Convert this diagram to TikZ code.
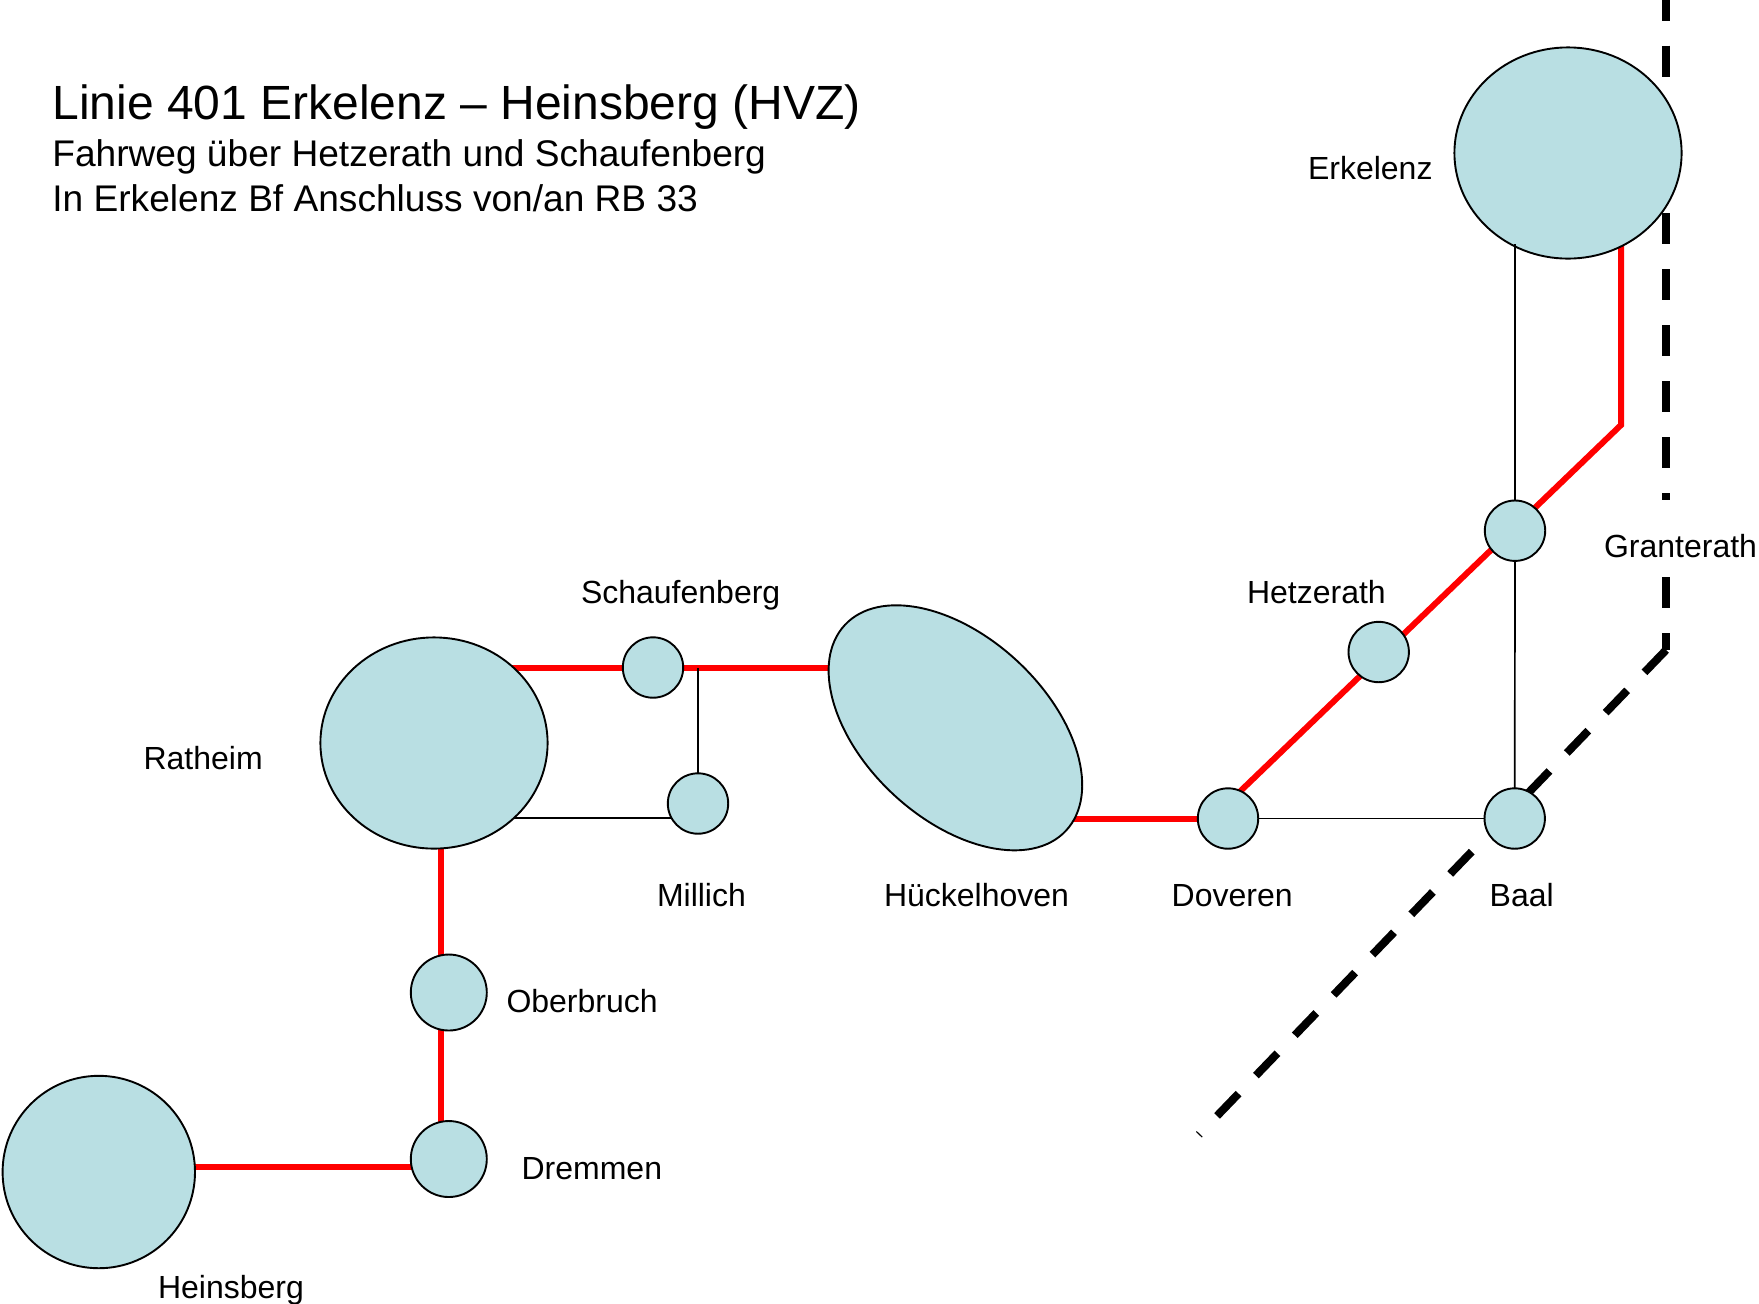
\documentclass[tikz,border=0pt]{standalone}
\usepackage{fontspec}
\setmainfont{Liberation Sans}
\usetikzlibrary{shapes.geometric,backgrounds}
\definecolor{stationfill}{HTML}{B9DFE3}
\tikzset{
  stationbase/.style={ellipse,draw=black,fill=stationfill,line width=0.95pt,inner sep=0pt,outer sep=0pt},
  smallstation/.style={stationbase,minimum width=30.2pt,minimum height=30.2pt},
  midstation/.style={stationbase,minimum width=38pt,minimum height=38pt},
  bigstation/.style={stationbase,minimum width=113.6pt,minimum height=105.6pt},
  lbl/.style={anchor=base west,inner sep=0pt,outer sep=0pt,font=\fontsize{16}{19}\selectfont,text=black},
  redline/.style={draw=red,line width=3pt,line join=miter},
  thinline/.style={draw=black,line width=0.85pt},
  railline/.style={draw=black,line width=4pt,dash pattern=on 15.5pt off 12.5pt}
}
\begin{document}
\begin{tikzpicture}[x=0.5pt,y=-0.5pt]
\useasboundingbox (0,0) rectangle (1759,1303);
% stations
\node[bigstation] (erkelenz) at (1568,153) {};
\node[bigstation] (ratheim) at (434,743) {};
\node[stationbase,minimum width=151pt,minimum height=91pt,rotate=-42.9] (hueckelhoven) at (955.4,727.8) {};
\node[smallstation] (schaufenberg) at (653,667.5) {};
\node[smallstation] (millich) at (698,803.5) {};
\node[smallstation] (granterath) at (1515,530.7) {};
\node[smallstation] (hetzerath) at (1378.7,652) {};
\node[smallstation] (doveren) at (1228,818.5) {};
\node[smallstation] (baal) at (1514.7,818.5) {};
\node[midstation] (oberbruch) at (448.8,992.5) {};
\node[midstation] (dremmen) at (448.8,1159) {};
\node[stationbase,minimum width=96.2pt,minimum height=96.2pt] (heinsberg) at (98.8,1172) {};
% helper points
\coordinate (redbend) at (1621,425);
\coordinate (redend) at (1228,803);
\coordinate (erkthin) at (1515,244);
\coordinate (millthin) at (698,818);
\coordinate (ratred) at (441,742.5);
\coordinate (heinred) at (98.8,1166.7);
\coordinate (dremred) at (441,1166.7);
\coordinate (raila) at (1666,-10.5);
\coordinate (railaa) at (1666,76.7);
\coordinate (railab) at (1666,213);
\coordinate (railb) at (1666,500);
\coordinate (railc) at (1666,577);
\coordinate (raild) at (1666,650);
\coordinate (raile) at (1198.9,1134.7);
\begin{scope}[on background layer]
  \draw[railline] (raila) -- (railaa);
  \draw[railline] (railab) -- (railb);
  \draw[railline] (railc) -- (raild);
  \draw[railline] (raild) -- (raile);
  \draw[redline] (redbend |- erkelenz) -- (redbend) -- (redend);
  \draw[redline] (doveren) -- (doveren -| hueckelhoven);
  \draw[redline] (ratheim |- schaufenberg) -- (schaufenberg -| hueckelhoven);
  \draw[redline] (ratred) -- (dremred);
  \draw[redline] (heinred) -- (dremred);
  \draw[thinline] (ratheim |- millthin) -- (millthin);
  \draw[thinline] (millich) -- (millich |- schaufenberg);
  \draw[thinline] (doveren) -- (baal);
  \draw[thinline] (granterath) -- (baal);
\end{scope}
\draw[thinline] (erkthin) -- (granterath.north);
% labels
\node[anchor=base west,inner sep=0pt,font=\fontsize{24}{29}\selectfont] (title) at (52,119) {Linie 401 Erkelenz – Heinsberg (HVZ)};
\node[anchor=base west,inner sep=0pt,font=\fontsize{18.55}{22}\selectfont] (sub1) at (52,166.5) {Fahrweg über Hetzerath und Schaufenberg};
\node[anchor=base west,inner sep=0pt,font=\fontsize{18.55}{22}\selectfont] (sub2) at (52,211.5) {In Erkelenz Bf Anschluss von/an RB 33};
\node[lbl] (lerk) at (1308,179.5) {Erkelenz};
\node[lbl] (lgra) at (1604,557) {Granterath};
\node[lbl] (lhet) at (1247,603) {Hetzerath};
\node[lbl] (lsch) at (581,603) {Schaufenberg};
\node[lbl] (lrat) at (143.6,769.5) {Ratheim};
\node[lbl] (lmil) at (657,906) {Millich};
\node[lbl] (lhue) at (884,906) {Hückelhoven};
\node[lbl] (ldov) at (1171.7,906) {Doveren};
\node[lbl] (lbaa) at (1489.7,906) {Baal};
\node[lbl] (lobe) at (506.5,1012) {Oberbruch};
\node[lbl] (ldre) at (521.6,1179) {Dremmen};
\node[lbl] (lhei) at (158,1298.5) {Heinsberg};
\end{tikzpicture}
\end{document}
